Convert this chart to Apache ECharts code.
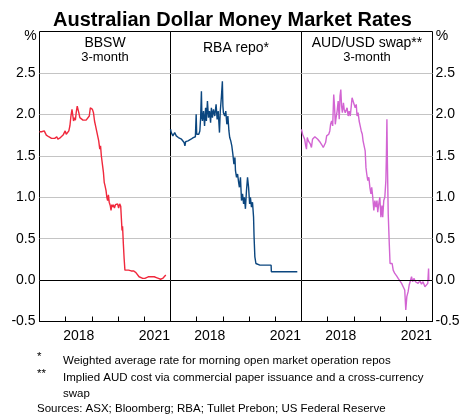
<!DOCTYPE html>
<html><head><meta charset="utf-8">
<script src="https://cdn.jsdelivr.net/npm/echarts@6/dist/echarts.min.js"></script>
<style>html,body{margin:0;padding:0;background:#fff}#c{width:465px;height:415px}</style>
</head><body><div id="c"></div><script>
// ---------- DATA ----------
const bbswYears = [2017.00,2017.04,2017.08,2017.13,2017.18,2017.22,2017.26,2017.30,2017.35,2017.41,2017.46,2017.50,2017.53,2017.58,2017.62,2017.66,2017.70,2017.75,2017.80,2017.85,2017.90,2017.94,2017.98,2018.02,2018.07,2018.12,2018.16,2018.20,2018.24,2018.27,2018.30,2018.33,2018.37,2018.40,2018.44,2018.47,2018.50,2018.54,2018.60,2018.66,2018.72,2018.78,2018.84,2018.90,2018.94,2018.98,2019.02,2019.06,2019.10,2019.14,2019.18,2019.22,2019.26,2019.30,2019.33,2019.36,2019.40,2019.44,2019.47,2019.50,2019.54,2019.57,2019.60,2019.63,2019.66,2019.70,2019.73,2019.76,2019.79,2019.82,2019.86,2019.90,2019.94,2019.98,2020.02,2020.06,2020.10,2020.12,2020.15,2020.17,2020.20,2020.23,2020.26,2020.32,2020.40,2020.50,2020.60,2020.68,2020.74,2020.80,2020.86,2020.94,2021.02,2021.08,2021.15,2021.22,2021.30,2021.38,2021.46,2021.54,2021.62,2021.70,2021.76,2021.82];
const bbswValues = [1.79,1.78,1.79,1.78,1.80,1.79,1.75,1.74,1.73,1.72,1.71,1.73,1.70,1.71,1.70,1.73,1.70,1.70,1.72,1.74,1.75,1.76,1.80,1.76,1.78,1.80,1.86,1.98,2.06,2.04,1.92,1.96,1.93,2.02,2.10,2.12,2.02,1.96,1.94,1.93,1.92,1.93,1.94,1.98,2.08,2.09,2.06,2.02,1.92,1.86,1.80,1.74,1.68,1.58,1.62,1.50,1.40,1.30,1.18,1.14,1.08,1.00,0.96,1.03,0.94,0.90,0.84,0.91,0.88,0.91,0.87,0.91,0.89,0.92,0.87,0.92,0.89,0.91,0.60,0.65,0.44,0.26,0.12,0.11,0.12,0.11,0.11,0.09,0.07,0.04,0.02,0.02,0.02,0.04,0.04,0.03,0.04,0.04,0.03,0.02,0.01,0.02,0.02,0.06];

const repoYears = [2017.00,2017.03,2017.06,2017.09,2017.13,2017.16,2017.19,2017.22,2017.25,2017.30,2017.36,2017.42,2017.48,2017.52,2017.55,2017.58,2017.61,2017.67,2017.72,2017.78,2017.83,2017.87,2017.92,2017.95,2017.98,2018.00,2018.04,2018.08,2018.12,2018.15,2018.18,2018.20,2018.22,2018.26,2018.30,2018.34,2018.37,2018.41,2018.45,2018.49,2018.53,2018.56,2018.60,2018.64,2018.69,2018.74,2018.78,2018.82,2018.87,2018.90,2018.94,2018.98,2019.00,2019.02,2019.07,2019.11,2019.15,2019.19,2019.23,2019.26,2019.30,2019.34,2019.38,2019.42,2019.46,2019.48,2019.52,2019.56,2019.60,2019.63,2019.67,2019.71,2019.75,2019.79,2019.82,2019.86,2019.90,2019.94,2019.98,2020.02,2020.05,2020.09,2020.13,2020.17,2020.19,2020.22,2020.26,2020.30,2020.41,2020.60,2020.84,2020.85,2021.24,2021.84];
const repoValues = [1.82,1.78,1.80,1.74,1.72,1.78,1.80,1.74,1.73,1.72,1.72,1.70,1.68,1.66,1.62,1.67,1.66,1.68,1.69,1.70,1.72,1.72,1.74,1.73,2.00,1.76,1.74,1.76,1.80,1.96,2.28,1.96,1.92,2.04,1.86,2.08,1.92,2.16,1.96,2.04,1.90,2.08,1.96,2.06,1.98,2.12,1.94,2.04,1.78,2.04,2.20,2.40,2.10,2.02,1.98,2.04,1.88,1.98,1.80,1.72,1.68,1.62,1.52,1.40,1.48,1.32,1.24,1.28,1.18,1.12,1.24,0.96,1.04,0.92,1.00,0.86,1.08,1.24,1.12,0.92,1.00,0.88,0.94,0.76,0.52,0.28,0.20,0.18,0.18,0.18,0.18,0.10,0.10,0.10];

const swapYears = [2017.00,2017.04,2017.08,2017.12,2017.16,2017.19,2017.22,2017.26,2017.30,2017.34,2017.38,2017.42,2017.46,2017.51,2017.57,2017.62,2017.66,2017.72,2017.78,2017.83,2017.88,2017.92,2017.96,2018.00,2018.04,2018.08,2018.11,2018.15,2018.19,2018.23,2018.26,2018.29,2018.32,2018.36,2018.40,2018.44,2018.47,2018.50,2018.53,2018.56,2018.60,2018.63,2018.67,2018.70,2018.74,2018.78,2018.82,2018.86,2018.90,2018.93,2018.97,2019.01,2019.05,2019.09,2019.12,2019.16,2019.20,2019.24,2019.28,2019.32,2019.35,2019.39,2019.43,2019.46,2019.49,2019.53,2019.57,2019.61,2019.65,2019.68,2019.72,2019.76,2019.80,2019.84,2019.88,2019.91,2019.95,2019.99,2020.03,2020.07,2020.10,2020.14,2020.18,2020.22,2020.24,2020.26,2020.28,2020.31,2020.35,2020.38,2020.42,2020.46,2020.50,2020.56,2020.63,2020.69,2020.75,2020.82,2020.88,2020.94,2020.98,2021.02,2021.07,2021.11,2021.16,2021.20,2021.24,2021.29,2021.35,2021.40,2021.45,2021.52,2021.58,2021.64,2021.71,2021.77,2021.82,2021.85,2021.86];
const swapValues = [1.82,1.76,1.74,1.70,1.62,1.58,1.72,1.68,1.66,1.64,1.60,1.70,1.72,1.73,1.72,1.70,1.68,1.66,1.63,1.60,1.58,1.66,1.74,1.72,1.76,1.80,1.88,1.92,1.86,2.24,2.10,1.88,1.96,2.04,2.16,1.94,2.22,2.30,2.10,2.02,2.14,2.06,2.02,2.00,2.08,1.98,2.04,1.98,2.10,2.20,2.22,2.12,2.08,2.12,1.98,2.02,1.92,1.86,1.80,1.76,1.68,1.66,1.56,1.36,1.28,1.20,1.24,1.12,1.04,1.12,1.00,0.84,0.96,0.88,0.96,0.82,0.92,1.00,0.76,0.90,0.76,0.96,1.00,1.20,1.50,1.94,1.40,0.80,0.44,0.20,0.22,0.20,0.12,0.08,0.05,0.02,0.00,-0.04,-0.08,-0.12,-0.36,-0.20,-0.14,-0.06,-0.04,0.04,-0.02,0.02,-0.02,0.00,-0.04,-0.01,-0.05,-0.02,-0.08,-0.06,-0.04,0.14,0.00];

const panelTitles = [['BBSW','3-month'],['RBA repo*'],['AUD/USD swap**','3-month']];
const xLabelYears = [2018, 2021];
const yTicks = [-0.5, 0, 0.5, 1.0, 1.5, 2.0, 2.5];
const footnotes = [
  ['*', 'Weighted average rate for morning open market operation repos'],
  ['**', 'Implied AUD cost via commercial paper issuance and a cross-currency', 'swap']
];
const sourceText = 'Sources: ASX; Bloomberg; RBA; Tullet Prebon; US Federal Reserve';
const chartTitle = 'Australian Dollar Money Market Rates';

// ---------- CHART ----------
const FONT = '"Liberation Sans", Arial, Helvetica, sans-serif';
const colors = ['#f0283c', '#0b467f', '#d264d2'];
const seriesData = [
  bbswYears.map((x, i) => [x, bbswValues[i]]),
  repoYears.map((x, i) => [x, repoValues[i]]),
  swapYears.map((x, i) => [x, swapValues[i]])
];
const gridLefts = [39.5, 170.5, 301.5];
const gridW = 131, gridTop = 31.5, gridH = 290;

function yFmt(v) {
  for (const t of yTicks) if (Math.abs(v - t) < 1e-6) return t.toFixed(1);
  return '';
}
function xFmt(v) {
  for (const y of xLabelYears) {
    if (Math.abs(v - (y + 0.5)) < 1e-3) return y === 2021 ? '{r|' + y + '}' : String(y);
  }
  return '';
}

const grid = gridLefts.map(l => ({left: l, top: gridTop, width: gridW, height: gridH,
  show: true, borderColor: '#000', borderWidth: 1, backgroundColor: 'transparent', containLabel: false}));

const xAxis = [];
for (let i = 0; i < 3; i++) {
  xAxis.push({type: 'value', gridIndex: i, min: 2017, max: 2022, interval: 1,
    axisLine: {show: true, onZero: false, lineStyle: {color: '#000', width: 1}},
    axisTick: {show: true, inside: true, length: 5, lineStyle: {color: '#000', width: 1}},
    axisLabel: {show: false}, splitLine: {show: false}});
}
for (let i = 0; i < 3; i++) {
  xAxis.push({type: 'value', gridIndex: i, position: 'bottom', min: 2017, max: 2022, interval: 0.5,
    axisLine: {show: false, onZero: false}, axisTick: {show: false}, splitLine: {show: false},
    axisLabel: {show: true, margin: 8, fontSize: 14, color: '#000', fontFamily: FONT, formatter: xFmt,
      showMinLabel: true, showMaxLabel: true,
      rich: {r: {padding: [0, 6, 0, 0], fontSize: 14, color: '#000', fontFamily: FONT}}}});
}

const yAxis = [0, 1, 2].map(i => ({
  type: 'value', gridIndex: i, min: -0.5, max: 3, interval: 0.5,
  position: i === 2 ? 'right' : 'left',
  axisLine: {show: false}, axisTick: {show: false},
  axisLabel: {show: i !== 1, margin: i === 2 ? 3 : 4, fontSize: 14, color: '#000', fontFamily: FONT, formatter: yFmt},
  splitLine: {show: true, showMinLine: false, showMaxLine: false, lineStyle: {color: '#c4c4c4', width: 1.2}}
}));

const series = [0, 1, 2].map(i => ({
  type: 'line', xAxisIndex: i, yAxisIndex: i, data: seriesData[i],
  showSymbol: false, symbol: 'none', smooth: false, animation: false, z: 3,
  lineStyle: {color: colors[i], width: 1.4},
  markLine: {silent: true, symbol: ['none', 'none'], animation: false, label: {show: false},
    lineStyle: {color: '#000', width: 1, type: 'solid'}, data: [{yAxis: 0}]}
}));

function txt(text, x, y, size, align, bold) {
  return {type: 'text', x: x, y: y, silent: true, z: 10,
    style: {text: text, fill: '#000', fontSize: size, fontFamily: FONT, fontWeight: bold ? 'bold' : 'normal',
      align: align, verticalAlign: 'middle', textAlign: align, textVerticalAlign: 'middle'}};
}
const centers = gridLefts.map(l => l + gridW / 2);
const graphics = [
  txt(chartTitle, 232.5, 20, 20, 'center', true),
  txt('%', 30.5, 36.5, 14, 'center'),
  txt('%', 442, 36.5, 14, 'center'),
  txt(panelTitles[0][0], centers[0], 43, 14, 'center'),
  txt(panelTitles[0][1], centers[0], 57, 13, 'center'),
  txt(panelTitles[1][0], centers[1], 48.5, 14, 'center'),
  txt(panelTitles[2][0], centers[2], 43, 14, 'center'),
  txt(panelTitles[2][1], centers[2], 57, 13, 'center'),
  txt(footnotes[0][0], 37, 357, 11.5, 'left'),
  txt(footnotes[0][1], 63, 360.5, 11.5, 'left'),
  txt(footnotes[1][0], 37, 374, 11.5, 'left'),
  txt(footnotes[1][1], 63, 378, 11.5, 'left'),
  txt(footnotes[1][2], 63, 393.5, 11.5, 'left'),
  txt(sourceText, 37, 408.5, 11.5, 'left')
];

const chart = echarts.init(document.getElementById('c'), null, {renderer: 'canvas'});
chart.setOption({
  animation: false,
  backgroundColor: '#fff',
  grid: grid, xAxis: xAxis, yAxis: yAxis, series: series,
  graphic: {elements: graphics}
});
</script></body></html>
